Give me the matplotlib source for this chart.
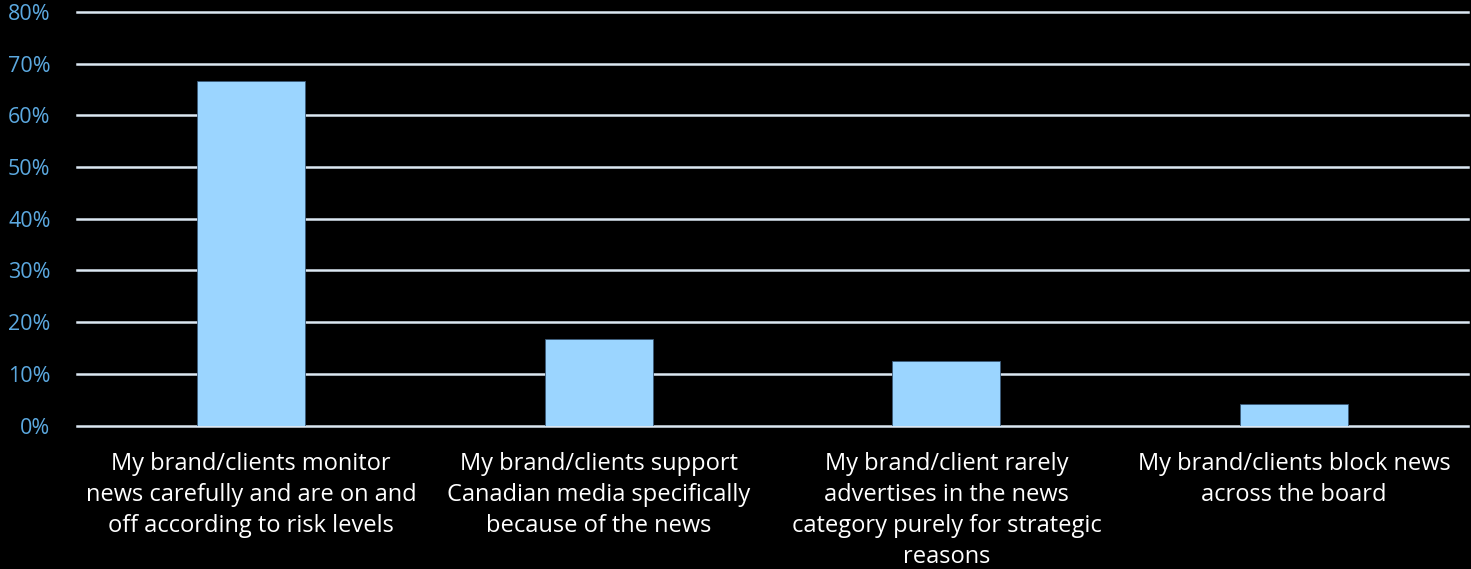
import matplotlib.pyplot as plt
from matplotlib.ticker import PercentFormatter

# survey answers (share of respondents)
categories = [
    "My brand/clients monitor\nnews carefully and are on and\noff according to risk levels",
    "My brand/clients support\nCanadian media specifically\nbecause of the news",
    "My brand/client rarely\nadvertises in the news\ncategory purely for strategic\nreasons",
    "My brand/clients block news\nacross the board",
]
shares = [66.7, 16.7, 12.5, 4.2]
yticks = [0, 10, 20, 30, 40, 50, 60, 70, 80]

BG = "black"
BAR = "#9BD5FF"
GRID = "#DCE8F3"
TICK = "#5CA9E0"

plt.rcParams["font.family"] = ["Open Sans", "DejaVu Sans"]

fig = plt.figure(figsize=(14.71, 5.69), dpi=100, facecolor=BG)
ax = fig.add_axes([77 / 1471, 1 - 425.5 / 569, 1391 / 1471, 413.5 / 569])
ax.set_facecolor(BG)

x = list(range(len(categories)))
ax.bar(x, shares, width=0.31, color=BAR, edgecolor="#3A5A78", linewidth=0.6, zorder=3)

ax.set_xlim(-0.5, len(categories) - 0.5)
ax.set_ylim(0, 80)
ax.set_yticks(yticks)
ax.yaxis.set_major_formatter(PercentFormatter(decimals=0))
ax.grid(axis="y", color=GRID, linewidth=1.8, zorder=1)
ax.set_axisbelow(True)
for gl in ax.get_ygridlines():
    gl.set_clip_on(False)

ax.set_xticks(x)
ax.set_xticklabels(categories, color="white", fontsize=17, linespacing=1.4)
ax.tick_params(axis="x", length=0, pad=19)
ax.tick_params(axis="y", length=0, pad=19, labelcolor=TICK, labelsize=15.5)
for s in ax.spines.values():
    s.set_visible(False)

fig.savefig("out.png", dpi=100, facecolor=BG)
